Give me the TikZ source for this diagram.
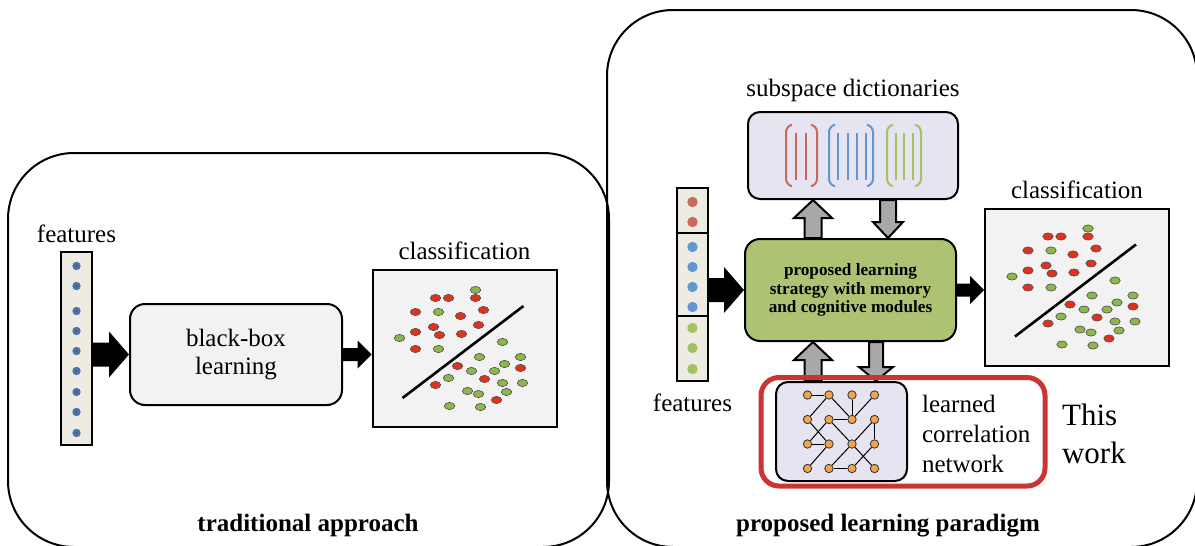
\documentclass[tikz,border=0pt]{standalone}
\usepackage{fontspec}
\setmainfont{Liberation Serif}
\usetikzlibrary{arrows.meta,positioning,calc}

\definecolor{boxgray}{HTML}{F2F2F2}
\definecolor{lavender}{HTML}{E6E4F0}
\definecolor{leaf}{HTML}{ADC272}
\definecolor{beige}{HTML}{EEEBE3}
\definecolor{dotred}{HTML}{E0321F}
\definecolor{dotgreen}{HTML}{8DB64C}
\definecolor{featred}{HTML}{C9685D}
\definecolor{featblue}{HTML}{6396D0}
\definecolor{featgreen}{HTML}{A3C262}
\definecolor{featnavy}{HTML}{4B73A5}
\definecolor{netorange}{HTML}{F2A44C}
\definecolor{workred}{HTML}{CC3333}
\definecolor{arrowgray}{HTML}{A8A8A8}

\newcommand\scatterdots[1]{%
  \begin{scope}[shift={(#1.north west)}]
    \draw[line width=1.3pt] (31,129) -- (152,37);
    \foreach \dx/\dy in {64/29,77/29,104/29,44/43,112/41,89/47,62/58,107/56,44/63,68/66,90/65,44/80,86/97,113/110,64/116,149/99,125/131}
      \filldraw[fill=dotred,draw=black!70,line width=0.3pt] (\dx,\dy) ellipse [x radius=2.6pt,y radius=1.8pt];
    \foreach \dx/\dy in {104/21,67/43,28/69,67/80,131/73,108/88,149/88,133/95,100/102,123/102,77/109,131/114,151/114,96/122,107/125,135/123,78/137,109/138}
      \filldraw[fill=dotgreen,draw=black!70,line width=0.3pt] (\dx,\dy) ellipse [x radius=2.6pt,y radius=1.8pt];
  \end{scope}}

\begin{document}
\begin{tikzpicture}[x=0.5pt,y=-0.5pt,
  every node/.style={font=\fontsize{12.5}{15}\selectfont},
  panel/.style={draw,line width=1pt,rounded corners=33pt},
  featcol/.style={draw,line width=1pt,fill=beige,minimum width=15.5pt,inner sep=0pt,outer sep=0pt},
  softbox/.style={draw,line width=1pt,fill=boxgray,rounded corners=7.5pt,align=center},
  plotbox/.style={draw,line width=1pt,fill=boxgray,minimum width=92pt,minimum height=78.5pt},
  dictbox/.style={draw,line width=1pt,fill=lavender,rounded corners=6pt},
  leafbox/.style={draw,line width=1pt,fill=leaf,rounded corners=7.5pt,align=center,font=\fontsize{8.6}{9.4}\selectfont\bfseries},
  workbox/.style={draw=workred,line width=2.5pt,rounded corners=9pt},
  netdot/.style={circle,draw=black!80,line width=0.4pt,fill=netorange,inner sep=0pt,minimum size=4.2pt},
  paneltitle/.style={font=\fontsize{12.5}{15}\selectfont\bfseries},
  fatarrow/.style n args={3}{to path={let \p1=(\tikztostart),\p2=(\tikztotarget),\p3=($(\p2)!#3!(\p1)$) in
    ($(\p1)!#1!90:(\p2)$) -- ($(\p3)!#1!90:(\p2)$) -- ($(\p3)!#2!90:(\p2)$) -- (\p2)
    -- ($(\p3)!#2!-90:(\p2)$) -- ($(\p3)!#1!-90:(\p2)$) -- ($(\p1)!#1!-90:(\p2)$) -- cycle}},
  bigarrow/.style={fill=black,fatarrow={6pt}{11.5pt}{10pt}},
  smallarrow/.style={fill=black,fatarrow={3.25pt}{7pt}{7pt}},
  grayarrow/.style={fill=arrowgray,draw=black,line width=1pt,fatarrow={4.25pt}{9.5pt}{9pt}}
]
\useasboundingbox (0,0) rectangle (1195,546);
\node[panel,minimum width=300.5pt,minimum height=197pt] (tradpanel) at (308.5,350) {};
\node[panel,minimum width=295pt,minimum height=268.5pt] (proppanel) at (902,278.5) {};

\node[featcol,minimum height=96.5pt] (featL) at (76.5,348.5) {};
\foreach \y in {266,286,311,331,351,371,392,412,433}{
  \fill[featnavy] (76.5,\y) circle (2.1pt);
  \fill[black!80] (76.5,\y) circle (0.35pt);
}
\node[above=1pt of featL] (featLlabel) {features};
\node[softbox,minimum width=106pt,minimum height=50.5pt,font=\fontsize{12.5}{14}\selectfont] (blackbox) at (236,354.5) {black-box\\learning};
\node[plotbox] (clsL) at (464.5,348.5) {};
\scatterdots{clsL}
\node[above=1pt of clsL] (clsLlabel) {classification};
\path[bigarrow] (featL.east |- blackbox.west) to (blackbox.west);
\path[smallarrow] (blackbox.east) to (blackbox.east -| clsL.west);
\node[paneltitle] (tradlabel) at (308,525) {traditional approach};

\node[dictbox,minimum width=105pt,minimum height=43.5pt] (dict) at (853,155.5) {};
\node[above=1pt of dict] (dictlabel) {subspace dictionaries};
\foreach \a/\b/\col/\bars in {786/817/featred/{796,806},829/873/featblue/{838,848,857,866},887/921/featgreen/{896,904,913}}{
  \draw[\col,line width=1pt,rounded corners=3pt] (\a+5,125) -- (\a,126) -- (\a,185) -- (\a+5,186);
  \draw[\col,line width=1pt,rounded corners=3pt] (\b-5,125) -- (\b,126) -- (\b,185) -- (\b-5,186);
  \foreach \x in \bars \draw[\col,line width=1pt] (\x,133) -- (\x,180);
}

\node[featcol,minimum height=22.5pt] (featR1) at (692.5,210.5) {};
\node[featcol,minimum height=41.5pt,below=0pt of featR1] (featR2) {};
\node[featcol,minimum height=32.5pt,below=0pt of featR2] (featR3) {};
\foreach \y/\col in {202/featred,222/featred,247/featblue,267/featblue,287/featblue,307/featblue,328/featgreen,348/featgreen,369/featgreen}
  \fill[\col] (692.5,\y) circle (2.6pt);
\node[below=3pt of featR3] (featRlabel) {features};

\node[leafbox,minimum width=105.5pt,minimum height=51pt] (strategy) at (850.5,290) {proposed learning\\strategy with memory\\and cognitive modules};
\path[bigarrow] (featR2.east |- strategy.west) to (strategy.west);
\node[plotbox] (clsR) at (1077,287) {};
\scatterdots{clsR}
\node[above=1pt of clsR] (clsRlabel) {classification};
\path[smallarrow] (strategy.east) to (strategy.east -| clsR.west);

\node[dictbox,minimum width=65.5pt,minimum height=49.5pt] (net) at (841.5,431.5) {};
\foreach \r/\y in {1/395,2/419.5,3/444,4/468.5}
  \foreach \c/\x in {1/807.5,2/829,3/852,4/874.5}
    \node[netdot] (n\r\c) at (\x,\y) {};
\foreach \a/\b in {11/12,12/21,12/23,13/23,14/23,21/32,22/31,22/23,22/33,24/34,24/33,33/42,31/32,32/41,33/44,34/43,42/43}
  \draw[line width=0.5pt] (n\a) -- (n\b);

\coordinate (dictup) at ([xshift=-18.75pt]strategy.north);
\coordinate (dictdown) at ([xshift=18.75pt]strategy.north);
\coordinate (netup) at ([xshift=-18.75pt]strategy.south);
\coordinate (netdown) at ([xshift=12.75pt]strategy.south);
\path[grayarrow] (dictup) to (dictup |- dict.south);
\path[grayarrow,fatarrow={4pt}{7.5pt}{8pt}] (dictdown |- dict.south) to (dictdown);
\path[grayarrow] (netup |- net.north) to (netup);
\path[grayarrow,fatarrow={3.5pt}{8.5pt}{7pt}] (netdown) to (netdown |- net.north);

\node[workbox,minimum width=142pt,minimum height=54.25pt] (workframe) at (903,431.75) {};
\node[anchor=west,align=left] (nettext) at (915,434) {learned\\correlation\\network};
\node[anchor=west,align=left,font=\fontsize{15.5}{19}\selectfont] (thiswork) at (1055,434) {This\\work};
\node[paneltitle] (proplabel) at (888,526) {proposed learning paradigm};
\end{tikzpicture}
\end{document}
